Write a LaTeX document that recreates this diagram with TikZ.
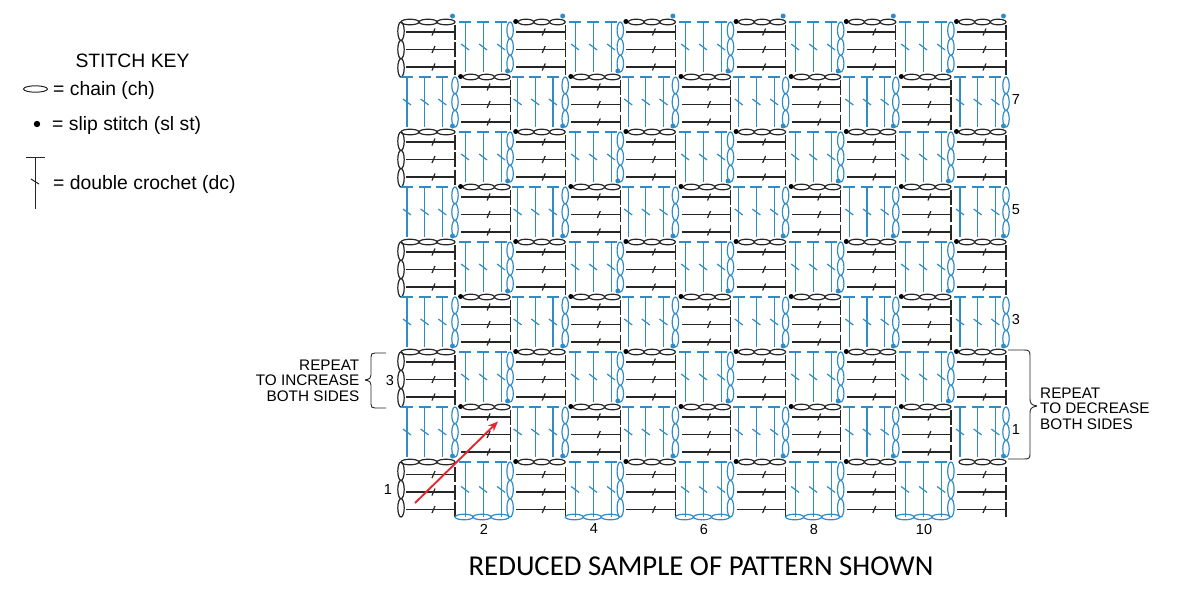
\documentclass[tikz,border=0pt]{standalone}
\usepackage{fontspec}
\setmainfont{Liberation Sans}
\newfontfamily\captionfont{Carlito}
\usetikzlibrary{arrows.meta}
\definecolor{stitchblue}{HTML}{2F8CC6}
\definecolor{arrowred}{HTML}{E0282E}
\tikzset{
  blackline/.style={draw=black!85,line width=1.2pt},
  blueline/.style={draw=stitchblue,line width=1.2pt},
  keyline/.style={draw=black!85,line width=1pt},
  keytext/.style={inner sep=0pt,anchor=west,font=\fontsize{19.35}{21}\selectfont},
  sidetext/.style={inner sep=0pt,font=\fontsize{15.3}{15.4}\selectfont},
  rownum/.style={inner sep=0pt,font=\fontsize{14.5}{15}\selectfont}
}
\begin{document}
\begin{tikzpicture}[x=1pt,y=-1pt,>=stealth]
  \useasboundingbox (0,0) rectangle (1180,598);
  % cells of the chart
  \foreach \r in {0,...,8} {
    \foreach \c in {0,...,10} {
      \pgfmathsetmacro\px{400+55.1*\c}
      \pgfmathsetmacro\py{22+55*\r}
      \begin{scope}[shift={(\px,\py)}]
        \ifodd\numexpr\r+\c\relax
          % blue cell
          \ifnum\r=8 \def\stemlen{55}\else \def\stemlen{50}\fi
          \ifodd\r
            \pgfmathsetmacro\drift{7+.2*\c}
            \edef\stems{\drift,\drift+17.6,\drift+35.3}
          \else
            \pgfmathsetmacro\drift{10.1-.1*\c}
            \edef\stems{\drift,\drift+18,\drift+36}
          \fi
          \foreach \s in \stems {
            \draw[blueline] ({\s-6},0) -- ({\s+6},0);
            \draw[blueline] ({\s},0) -- ({\s},\stemlen);
            \draw[blueline] ({\s-4},\stemlen/2-3) -- ({\s+4},\stemlen/2+3);
          }
          \foreach \k in {1,3,5}
            \draw[blueline] (55,\k*\stemlen/6) ellipse [x radius=3.2,y radius=\stemlen/6];
          \ifnum\r<8 \fill[stitchblue] (52.5,49) circle (2.5); \fi
        \else
          % black cell
          \ifnum\r=8 \def\dcs{12.5,30,47.5}\else \def\dcs{10,27.5,45}\fi
          \foreach \d in \dcs {
            \draw[blackline] (6,\d) -- (55,\d);
            \draw[blackline] (55,\d-7.5) -- (55,\d+7.5);
            \draw[blackline] (32,\d+3.5) -- (35,\d-3.5);
          }
          \ifnum\c=0
            \foreach \k in {10,28,46}
              \draw[blackline] (\k,0) ellipse [x radius=9,y radius=2.8];
            \foreach \k in {9.2,27.5,45.8}
              \draw[blackline] (1,\k) ellipse [x radius=3.2,y radius=9.2];
          \else
            \foreach \k in {15.8,31.5,47.2}
              \draw[blackline] (\k,0) ellipse [x radius=7.8,y radius=2.8];
            \ifnum\numexpr\r+\c\relax<18 \fill[black] (5.5,-.5) circle (2.5); \fi
          \fi
        \fi
      \end{scope}
    }
  }
  % dots over the top row, chain under the bottom row
  \foreach \c in {0,2,...,10}
    \fill[stitchblue] (400+55.1*\c+52.5,16) circle (2.5);
  \foreach \c in {1,3,...,9}
    \foreach \k in {9,27,45}
      \draw[blueline] (400+55.1*\c+\k,517) ellipse [x radius=9,y radius=2.8];
  % row and column numbers
  \foreach \n/\y in {7/100,5/210,3/320,1/430}
    \node[rownum] (rownum\n) at (1016,\y) {\n};
  \foreach \n/\x in {2/484,4/594,6/704,8/814,10/924}
    \node[rownum] (colnum\n) at (\x,529) {\n};
  \node[rownum] (rowstart) at (388,490) {1};
  \node[rownum] (repeatnum) at (390,380) {3};
  % braces
  \draw[black!85,line width=.9pt] (386,353) -- (375,353) .. controls (372,353) and (371,354) .. (371,357) -- (371,375)
    .. controls (371,378) and (370,379) .. (365,380);
  \draw[black!85,line width=.9pt] (365,380) .. controls (370,381) and (371,382) .. (371,385) -- (371,404)
    .. controls (371,407) and (372,408) .. (375,408) -- (386,408);
  \draw[black!85,line width=.9pt] (1008,350) -- (1024,350) .. controls (1029,350) and (1030,351) .. (1030,356) -- (1030,399)
    .. controls (1030,403) and (1031,405) .. (1037,406);
  \draw[black!85,line width=.9pt] (1037,406) .. controls (1031,407) and (1030,409) .. (1030,413) -- (1030,454)
    .. controls (1030,458) and (1029,459) .. (1024,459) -- (1008,459);
  \node[sidetext,align=right,anchor=east] (increase) at (359.5,380.5) {REPEAT\\TO INCREASE\\BOTH SIDES};
  \node[sidetext,align=left,anchor=west] (decrease) at (1040,408.5) {REPEAT\\TO DECREASE\\BOTH SIDES};
  % red arrow
  \coordinate (arrowtail) at (415,503);
  \coordinate (arrowhead) at (498,421.5);
  \draw[-{Stealth[length=10pt,width=8pt]},arrowred,line width=1.9pt] (arrowtail) -- (arrowhead);
  % key
  \node[keytext,anchor=center] (keytitle) at (132.5,61) {STITCH KEY};
  \draw[keyline] (35.5,89) ellipse [x radius=12,y radius=3.2];
  \node[keytext] (keychain) at (53,90) {= chain (ch)};
  \fill[black] (37,124) circle (3.2);
  \node[keytext] (keyslip) at (52,125) {= slip stitch (sl st)};
  \draw[keyline] (26,157) -- (45,157);
  \draw[keyline] (35,157) -- (35,209);
  \draw[keyline] (31,179) -- (39,184);
  \node[keytext] (keydc) at (53,184) {= double crochet (dc)};
  \node[inner sep=0pt,font=\captionfont\fontsize{28.8}{30}\selectfont] (caption) at (701,566) {REDUCED SAMPLE OF PATTERN SHOWN};
\end{tikzpicture}
\end{document}
